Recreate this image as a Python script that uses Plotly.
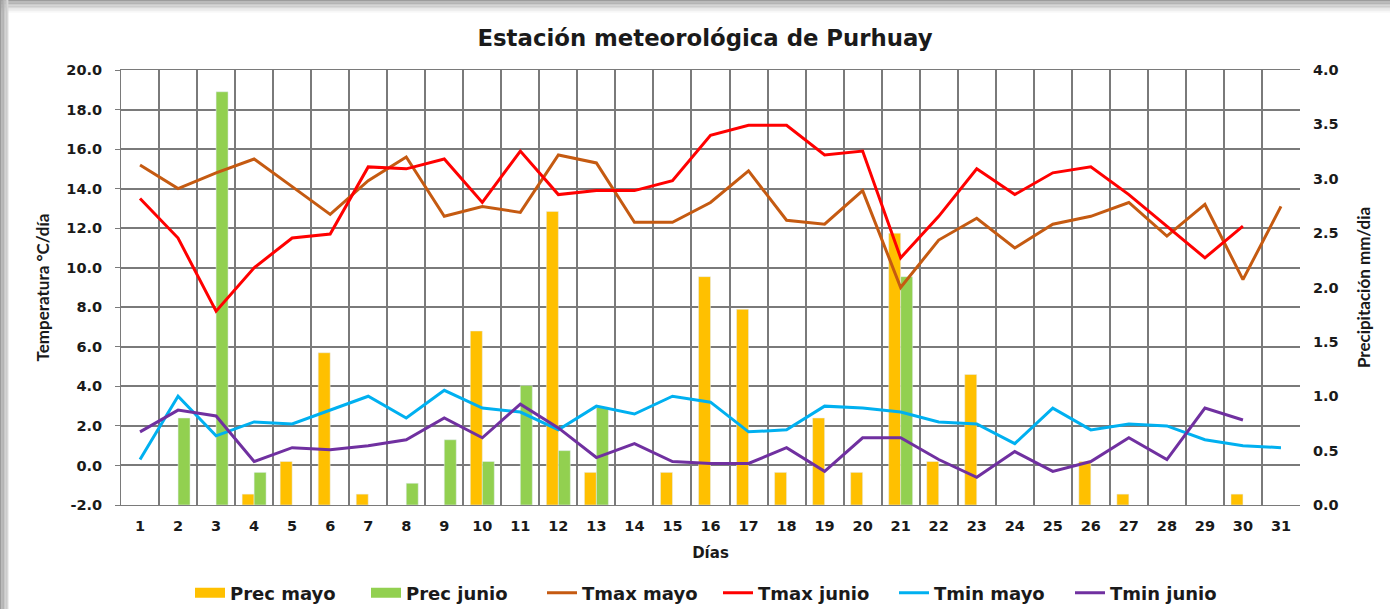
import plotly.graph_objects as go

days = list(range(1, 32))
day_labels = [str(d) for d in days]

prec_mayo = [None, None, None, 0.1, 0.4, 1.4, 0.1, None, None, 1.6, None, 2.7, 0.3, None, 0.3, 2.1,
             1.8, 0.3, 0.8, 0.3, 2.5, 0.4, 1.2, None, None, 0.4, 0.1, None, None, 0.1, None]
prec_junio = [None, 0.8, 3.8, 0.3, None, None, None, 0.2, 0.6, 0.4, 1.1, 0.5, 0.9, None, None, None,
              None, None, None, None, 2.1, None, None, None, None, None, None, None, None, None, None]
tmax_mayo = [15.2, 14.0, 14.8, 15.5, 14.1, 12.7, 14.4, 15.6, 12.6, 13.1, 12.8, 15.7, 15.3, 12.3, 12.3, 13.3,
             14.9, 12.4, 12.2, 13.9, 9.0, 11.4, 12.5, 11.0, 12.2, 12.6, 13.3, 11.6, 13.2, 9.4, 13.1]
tmax_junio = [13.5, 11.5, 7.8, 10.0, 11.5, 11.7, 15.1, 15.0, 15.5, 13.3, 15.9, 13.7, 13.9, 13.9, 14.4, 16.7,
              17.2, 17.2, 15.7, 15.9, 10.5, 12.6, 15.0, 13.7, 14.8, 15.1, 13.7, 12.1, 10.5, 12.1, None]
tmin_mayo = [0.3, 3.5, 1.5, 2.2, 2.1, 2.8, 3.5, 2.4, 3.8, 2.9, 2.7, 1.8, 3.0, 2.6, 3.5, 3.2,
             1.7, 1.8, 3.0, 2.9, 2.7, 2.2, 2.1, 1.1, 2.9, 1.8, 2.1, 2.0, 1.3, 1.0, 0.9]
tmin_junio = [1.7, 2.8, 2.5, 0.2, 0.9, 0.8, 1.0, 1.3, 2.4, 1.4, 3.1, 1.9, 0.4, 1.1, 0.2, 0.1,
              0.1, 0.9, -0.3, 1.4, 1.4, 0.3, -0.6, 0.7, -0.3, 0.2, 1.4, 0.3, 2.9, 2.3, None]

temp_ticks = [-2, 0, 2, 4, 6, 8, 10, 12, 14, 16, 18, 20]
temp_labels = ["-2.0", "0.0", "2.0", "4.0", "6.0", "8.0", "10.0", "12.0", "14.0", "16.0", "18.0", "20.0"]
prec_ticks = [0, 0.5, 1.0, 1.5, 2.0, 2.5, 3.0, 3.5, 4.0]
prec_labels = ["0.0", "0.5", "1.0", "1.5", "2.0", "2.5", "3.0", "3.5", "4.0"]

WIDE = "DejaVu Sans"
NARROW = "Lato"
TXT = "#1a1a1a"
TICKF = dict(family=WIDE, size=14.5, color=TXT, weight="bold")
GRID = "#7a7a7a"
C_PM, C_PJ = "#FFC000", "#92D050"

fig = go.Figure()
fig.add_trace(go.Bar(x=days, y=prec_mayo, name="Prec mayo", marker_color=C_PM,
                     yaxis="y", xaxis="x", showlegend=False))
fig.add_trace(go.Bar(x=days, y=prec_junio, name="Prec junio", marker_color=C_PJ,
                     yaxis="y", xaxis="x", showlegend=False))
# legend entries for the bars (wide box swatches)
for name, col in [("Prec mayo", C_PM), ("Prec junio", C_PJ)]:
    fig.add_trace(go.Scatter(x=[None], y=[None], name=name, mode="lines",
                             line=dict(color=col, width=14), yaxis="y2", xaxis="x"))
for name, vals, col in [("Tmax mayo", tmax_mayo, "#C55A11"),
                        ("Tmax junio", tmax_junio, "#FF0000"),
                        ("Tmin mayo", tmin_mayo, "#00B0F0"),
                        ("Tmin junio", tmin_junio, "#7030A0")]:
    fig.add_trace(go.Scatter(x=days, y=vals, name=name, mode="lines",
                             line=dict(color=col, width=3), yaxis="y2", xaxis="x",
                             connectgaps=False))

# frame shadow (top and left edges)
shapes = []
W0, H0 = 1179.0, 435.0
def px2x(p):
    return (p - 121) / W0
def px2y(p):
    return (505 - p) / H0
grays = ["#9c9c9c", "#a8a8a8", "#b4b4b4", "#c0c0c0", "#cccccc", "#d8d8d8", "#e3e3e3", "#eeeeee", "#f6f6f6"]
for i, g in enumerate(grays):
    shapes.append(dict(type="rect", xref="paper", yref="paper",
                       x0=px2x(0), x1=px2x(1390), y0=px2y(i * 1.4), y1=px2y(i * 1.4 + 1.4),
                       fillcolor=g, line=dict(width=0), layer="below"))
for i, g in enumerate(grays[:6]):
    shapes.append(dict(type="rect", xref="paper", yref="paper",
                       x0=px2x(i * 1.4), x1=px2x(i * 1.4 + 1.4), y0=px2y(609), y1=px2y(0),
                       fillcolor=g, line=dict(width=0), layer="below"))

fig.update_layout(
    width=1390, height=609,
    margin=dict(l=121, r=90, t=70, b=104, autoexpand=False),
    paper_bgcolor="white", plot_bgcolor="white",
    barmode="group", bargap=0.37, bargroupgap=0,
    title=dict(text="Estación meteorológica de Purhuay", x=px2x(705), xanchor="center", xref="paper",
               y=1 - 38 / 609, yanchor="middle",
               font=dict(family=WIDE, size=22.8, color=TXT, weight="bold")),
    xaxis=dict(range=[0.5, 31.5], tickmode="array", tickvals=days, ticktext=day_labels,
               showgrid=False, showline=True, linecolor=GRID, linewidth=1, mirror=True,
               ticks="outside", ticklen=8, tickcolor="rgba(0,0,0,0)", tickfont=TICKF,
               zeroline=False, automargin=False,
               minor=dict(tickmode="array", tickvals=[d - 0.5 for d in days] + [31.5],
                          showgrid=True, gridcolor=GRID, gridwidth=1.5),
               title=dict(text="Días", standoff=14,
                          font=dict(family=WIDE, size=15, color=TXT, weight="bold"))),
    yaxis=dict(side="right", range=[0, 4], tickmode="array", tickvals=prec_ticks,
               ticktext=prec_labels, showgrid=False, zeroline=False, showline=False,
               tickfont=TICKF, ticks="", ticklabelstandoff=12, automargin=False,
               title=dict(text="Precipitación mm/dia", standoff=20,
                          font=dict(family=NARROW, size=17, color=TXT, weight="bold"))),
    yaxis2=dict(side="left", overlaying="y", range=[-2, 20], tickmode="array",
                tickvals=temp_ticks, ticktext=temp_labels, showgrid=True, gridcolor=GRID,
                gridwidth=1.5, zeroline=False, showline=True, linecolor=GRID,
                ticks="outside", ticklen=5, tickcolor=GRID, tickfont=TICKF,
                ticklabelstandoff=10, automargin=False,
                title=dict(text="Temperatura °C/día", standoff=12,
                           font=dict(family=NARROW, size=17, color=TXT, weight="bold"))),
    legend=dict(orientation="h", x=px2x(190), xanchor="left", y=px2y(593), yanchor="middle",
                font=dict(family=WIDE, size=18, color=TXT, weight="bold"),
                entrywidth=131, entrywidthmode="pixels", itemwidth=30,
                traceorder="normal", bgcolor="rgba(0,0,0,0)"),
    shapes=shapes,
    showlegend=True,
)

fig.write_html("out.html", config={"displayModeBar": False},
               post_script="document.body.style.margin='0px';")
